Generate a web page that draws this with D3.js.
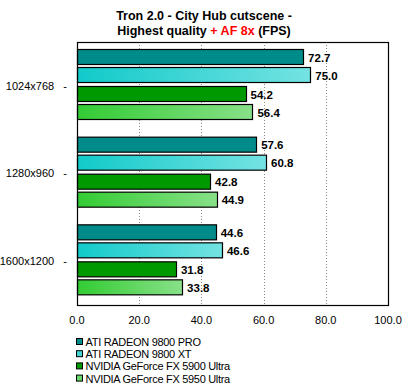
<!DOCTYPE html>
<html><head><meta charset="utf-8">
<script src="https://cdn.jsdelivr.net/npm/d3@7"></script>
<style>body{margin:0;background:#fff}svg{display:block}</style>
</head><body>
<script>
const categories = ["1024x768", "1280x960", "1600x1200"];
const seriesNames = ["ATI RADEON 9800 PRO", "ATI RADEON 9800 XT", "NVIDIA GeForce FX 5900 Ultra", "NVIDIA GeForce FX 5950 Ultra"];
const pro9800 = [72.7, 57.6, 44.6];
const xt9800 = [75.0, 60.8, 46.6];
const fx5900 = [54.2, 42.8, 31.8];
const fx5950 = [56.4, 44.9, 33.8];
const xTicks = [0, 20, 40, 60, 80, 100];
const values = [pro9800, xt9800, fx5900, fx5950];

const W = 409, H = 390;
const m = {left: 77, right: 388, top: 42, bottom: 305};
const font = "'Liberation Sans', Arial, sans-serif";

const svg = d3.select("body").append("svg").attr("width", W).attr("height", H);
const defs = svg.append("defs");
function grad(id, c0, c1) {
  const g = defs.append("linearGradient").attr("id", id).attr("x1", "0%").attr("x2", "100%").attr("y1", "0%").attr("y2", "0%");
  g.append("stop").attr("offset", "0%").attr("stop-color", c0);
  g.append("stop").attr("offset", "100%").attr("stop-color", c1);
}
grad("gXT", "#12CACA", "#74E2E2");
grad("g5950", "#33CC33", "#88E088");
const fills = ["#008B8B", "url(#gXT)", "#009900", "url(#g5950)"];
const legendFills = ["#008B8B", "#40D4D4", "#009900", "#66D966"];

const x = d3.scaleLinear().domain([0, 100]).range([m.left, m.right]);
const y0 = d3.scaleBand().domain(categories).range([m.top, m.bottom]).padding(0);
const y1 = d3.scaleBand().domain(d3.range(4)).range([0, y0.bandwidth()]).paddingInner(0.11).paddingOuter(0.44).align(0.42);

// title
const title = svg.append("text").attr("x", 204).attr("text-anchor", "middle")
  .attr("font-family", font).attr("font-weight", "bold").attr("font-size", 12.5);
title.append("tspan").attr("x", 204).attr("y", 19.5).text("Tron 2.0 - City Hub cutscene -");
const l2 = title.append("tspan").attr("x", 204).attr("y", 34.5);
l2.append("tspan").text("Highest quality ");
l2.append("tspan").attr("fill", "#FF0000").text("+ AF 8x");
l2.append("tspan").text(" (FPS)");

// grid
svg.append("g").selectAll("line").data(xTicks.filter(t => t > 0 && t < 100)).join("line")
  .attr("x1", d => Math.round(x(d)) + 0.5).attr("x2", d => Math.round(x(d)) + 0.5)
  .attr("y1", m.top).attr("y2", m.bottom)
  .attr("stroke", "#888").attr("stroke-dasharray", "1,2");

// bars
const gGroups = svg.append("g").selectAll("g").data(categories).join("g")
  .attr("transform", d => `translate(0,${y0(d)})`);
gGroups.each(function(cat, ci) {
  const g = d3.select(this);
  values.forEach((arr, si) => {
    const v = arr[ci];
    const yy = Math.round(y1(si)) + 0.5;
    g.append("rect").attr("x", Math.round(x(0)) + 0.5).attr("y", yy)
      .attr("width", Math.round(x(v) - x(0))).attr("height", Math.round(y1.bandwidth()) - 1)
      .attr("fill", fills[si]).attr("stroke", "#000").attr("stroke-width", 1.2);
    g.append("text").attr("x", x(v) + 5).attr("y", yy + y1.bandwidth() / 2)
      .attr("dy", "0.36em").attr("font-family", font).attr("font-weight", "bold")
      .attr("font-size", 11.5).text(v.toFixed(1));
  });
});

// category labels
svg.append("g").selectAll("text").data(categories).join("text")
  .attr("x", 67).attr("y", d => y0(d) + y0.bandwidth() / 2).attr("dy", "0.36em")
  .attr("text-anchor", "end").attr("font-family", font).attr("font-size", 11)
  .style("white-space", "pre").text(d => d + "   -");

// frame
svg.append("rect").attr("x", m.left + 0.5).attr("y", m.top + 0.5)
  .attr("width", m.right - m.left).attr("height", m.bottom - m.top)
  .attr("fill", "none").attr("stroke", "#000").attr("stroke-width", 1.2);

// x axis labels
svg.append("g").selectAll("text").data(xTicks).join("text")
  .attr("x", d => x(d)).attr("y", 320).attr("dy", "0.36em").attr("text-anchor", "middle")
  .attr("font-family", font).attr("font-size", 11).text(d => d.toFixed(1));

// legend
const lg = svg.append("g").selectAll("g").data(seriesNames).join("g")
  .attr("transform", (d, i) => `translate(76,${342 + i * 12.2})`);
lg.append("rect").attr("x", 0.5).attr("y", -3.5).attr("width", 6).attr("height", 6)
  .attr("fill", (d, i) => legendFills[i]).attr("stroke", "#000");
lg.append("text").attr("x", 9.5).attr("y", 0).attr("dy", "0.36em")
  .attr("font-family", font).attr("font-size", 11).attr("letter-spacing", "-0.3px").text(d => d);
</script>
</body></html>
